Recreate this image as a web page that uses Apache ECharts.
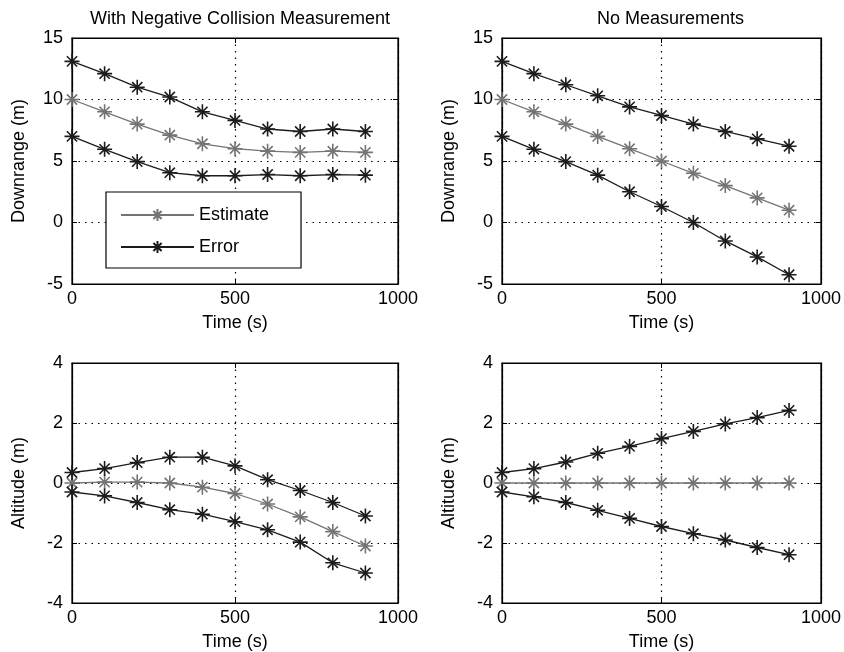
<!DOCTYPE html>
<html>
<head>
<meta charset="utf-8">
<script src="https://cdn.jsdelivr.net/npm/echarts@6/dist/echarts.min.js"></script>
<style>
  html, body { margin: 0; padding: 0; background: #fff; }
  #chart { width: 844px; height: 652px; }
</style>
</head>
<body>
<div id="chart"></div>
<script>
// time samples (s)
const time = [0, 100, 200, 300, 400, 500, 600, 700, 800, 900];

// downrange, with negative collision measurement
const negDownEst = [10.0, 9.0, 8.0, 7.1, 6.4, 6.0, 5.8, 5.7, 5.8, 5.7];
const negDownHi = [13.1, 12.1, 11.0, 10.2, 9.0, 8.3, 7.6, 7.4, 7.6, 7.4];
const negDownLo = [7.0, 5.95, 4.95, 4.05, 3.8, 3.8, 3.9, 3.8, 3.9, 3.85];

// downrange, no measurements
const noDownEst = [10.0, 9.0, 8.0, 7.0, 6.0, 5.0, 4.0, 3.0, 2.0, 1.0];
const noDownHi = [13.1, 12.1, 11.2, 10.3, 9.4, 8.7, 8.0, 7.4, 6.8, 6.2];
const noDownLo = [7.0, 5.95, 4.95, 3.85, 2.5, 1.3, 0.0, -1.5, -2.8, -4.25];

// altitude, with negative collision measurement
const negAltEst = [0.0, 0.03, 0.03, 0.0, -0.14, -0.35, -0.7, -1.13, -1.62, -2.1];
const negAltHi = [0.35, 0.48, 0.68, 0.86, 0.86, 0.57, 0.11, -0.25, -0.65, -1.1];
const negAltLo = [-0.3, -0.43, -0.65, -0.89, -1.04, -1.29, -1.56, -1.97, -2.66, -3.0];

// altitude, no measurements
const noAltEst = [0, 0, 0, 0, 0, 0, 0, 0, 0, 0];
const noAltHi = [0.35, 0.48, 0.7, 0.99, 1.22, 1.48, 1.72, 1.97, 2.18, 2.42];
const noAltLo = [-0.3, -0.46, -0.65, -0.91, -1.18, -1.45, -1.69, -1.9, -2.15, -2.39];

const titles = ['With Negative Collision Measurement', 'No Measurements'];

const FONT = 'Liberation Sans, Arial, sans-serif';
const FS = 18;
const ERR_COLOR = '#1c1c1c';
const EST_COLOR = '#747474';
const STAR = 'path://M5,0L5,10M0,5L10,5M1.6,1.6L8.4,8.4M1.6,8.4L8.4,1.6';

const grids = [
  {left: 72, top: 38, width: 326, height: 246},
  {left: 502, top: 38, width: 327, height: 246},
  {left: 72, top: 363, width: 326, height: 245},
  {left: 502, top: 363, width: 327, height: 245}
];

function pairs(ys) {
  return ys.map((y, i) => [time[i], y]);
}

function line(name, ys, idx, color) {
  return {
    name: name,
    type: 'line',
    xAxisIndex: idx,
    yAxisIndex: idx,
    data: pairs(ys),
    symbol: STAR,
    symbolSize: 15,
    showAllSymbol: true,
    animation: false,
    lineStyle: {color: color, width: 1.3},
    itemStyle: {color: color, borderColor: color, borderWidth: 1.6}
  };
}

const dotted = {color: '#000', width: 1.2, type: [1.5, 5]};
const txt = {fontSize: FS, color: '#000', fontFamily: FONT};

const xAxes = [];
const yAxes = [];
grids.forEach((g, i) => {
  const top = i < 2;
  xAxes.push({
    gridIndex: i,
    type: 'value',
    min: 0, max: 1000, interval: 500,
    name: 'Time (s)',
    nameLocation: 'middle',
    nameGap: 30,
    nameTextStyle: txt,
    axisLine: {onZero: false, lineStyle: {color: '#000', width: 1.2}},
    axisTick: {inside: true, length: 5, lineStyle: {color: '#000'}},
    axisLabel: Object.assign({margin: 6, formatter: v => String(v)}, txt),
    splitLine: {show: true, lineStyle: dotted}
  });
  yAxes.push({
    gridIndex: i,
    type: 'value',
    min: top ? -5 : -4,
    max: top ? 15 : 4,
    interval: top ? 5 : 2,
    name: top ? 'Downrange (m)' : 'Altitude (m)',
    nameLocation: 'middle',
    nameGap: 44,
    nameTextStyle: txt,
    axisLine: {lineStyle: {color: '#000', width: 1.2}},
    axisTick: {show: true, inside: true, length: 5, lineStyle: {color: '#000'}},
    axisLabel: Object.assign({margin: 9}, txt),
    splitLine: {show: true, lineStyle: dotted}
  });
});
// mirrored ticks on the top and right edges of each box
grids.forEach((g, i) => {
  const top = i < 2;
  xAxes.push({
    gridIndex: i, type: 'value', position: 'top',
    min: 0, max: 1000, interval: 500,
    axisLine: {onZero: false, lineStyle: {color: '#000', width: 1.2}},
    axisTick: {inside: true, length: 5, lineStyle: {color: '#000'}},
    axisLabel: {show: false},
    splitLine: {show: false}
  });
  yAxes.push({
    gridIndex: i, type: 'value', position: 'right',
    min: top ? -5 : -4, max: top ? 15 : 4, interval: top ? 5 : 2,
    axisLine: {show: true, onZero: false, lineStyle: {color: '#000', width: 1.2}},
    axisTick: {show: true, inside: true, length: 5, lineStyle: {color: '#000'}},
    axisLabel: {show: false},
    splitLine: {show: false}
  });
});

const sets = [
  [negDownEst, negDownHi, negDownLo],
  [noDownEst, noDownHi, noDownLo],
  [negAltEst, negAltHi, negAltLo],
  [noAltEst, noAltHi, noAltLo]
];

const series = [];
sets.forEach((s, i) => {
  series.push(line('Estimate', s[0], i, EST_COLOR));
  series.push(line('Error', s[1], i, ERR_COLOR));
  series.push(line('Error', s[2], i, ERR_COLOR));
});

const option = {
  backgroundColor: '#fff',
  animation: false,
  title: titles.map((t, i) => ({
    text: t,
    left: grids[i].left + grids[i].width / 2,
    top: 5,
    textAlign: 'center',
    textStyle: {fontSize: FS, fontWeight: 'normal', color: '#000', fontFamily: FONT}
  })),
  grid: grids.map(g => Object.assign({show: true, borderColor: '#000', borderWidth: 1.2, backgroundColor: 'transparent'}, g)),
  legend: {
    data: ['Estimate', 'Error'],
    orient: 'vertical',
    left: 106,
    top: 192,
    padding: [14, 32, 12, 14],
    itemWidth: 73,
    itemHeight: 15,
    itemGap: 14,
    borderColor: '#000',
    borderWidth: 1.2,
    backgroundColor: '#fff',
    textStyle: {fontSize: FS, color: '#000', fontFamily: FONT}
  },
  xAxis: xAxes,
  yAxis: yAxes,
  series: series
};

const chart = echarts.init(document.getElementById('chart'));
chart.setOption(option);
</script>
</body>
</html>
